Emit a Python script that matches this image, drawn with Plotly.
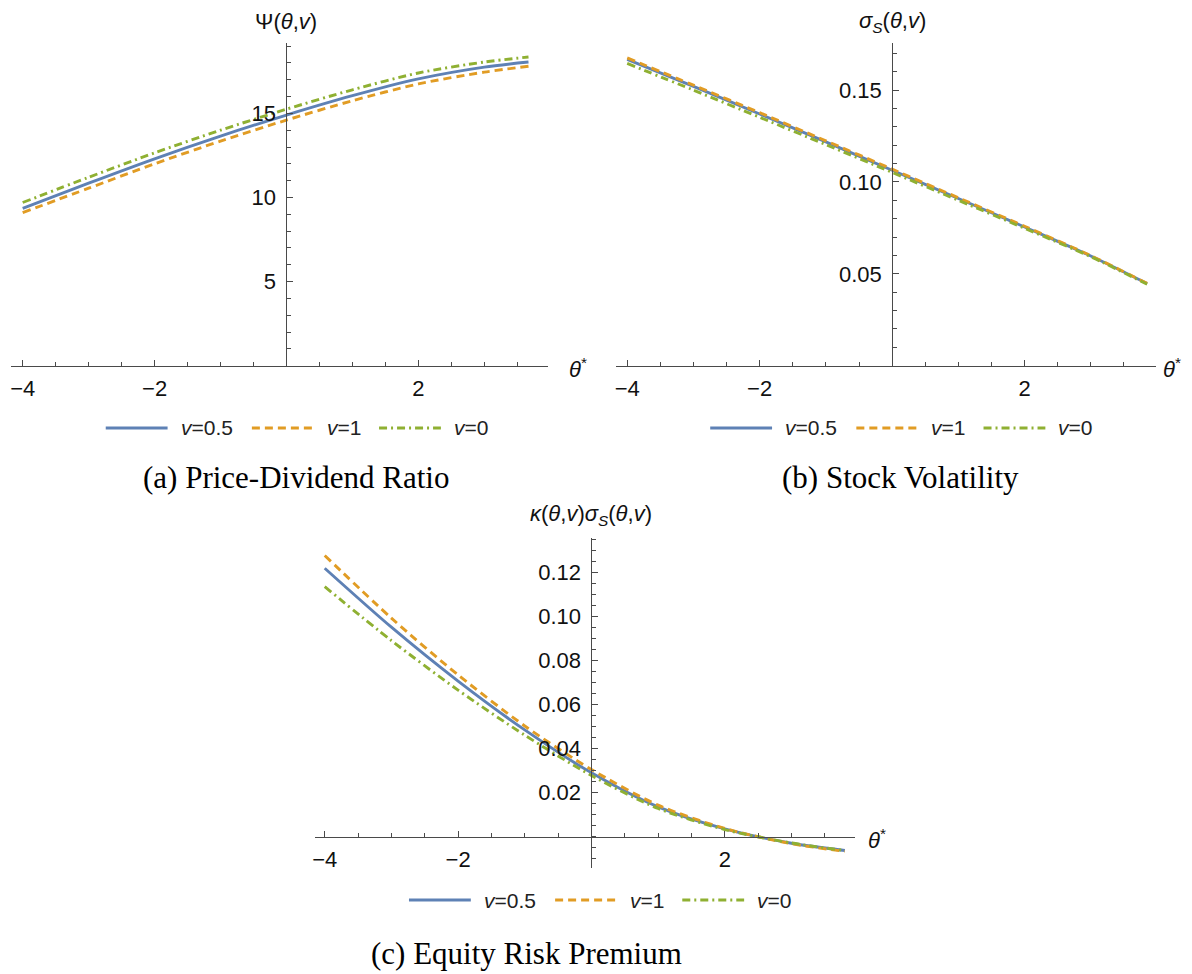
import plotly.graph_objects as go

W, H = 1192, 974

# ---------------- data ----------------
series_labels = ["<i>v</i>=0.5", "<i>v</i>=1", "<i>v</i>=0"]
series_colors = ["#5E81B5", "#E19C24", "#8FB032"]
series_dashes = ["solid", "8px,5px", "8px,4px,2px,4px"]

# (a) Price-Dividend Ratio
theta_a = [-4, -3, -2, -1, 0, 1, 2, 3, 3.67]
psi_v05 = [9.35, 10.85, 12.30, 13.65, 14.90, 16.05, 17.05, 17.75, 18.05]
psi_v1 = [9.10, 10.55, 12.00, 13.35, 14.60, 15.75, 16.75, 17.45, 17.80]
psi_v0 = [9.70, 11.20, 12.65, 14.00, 15.25, 16.40, 17.40, 18.05, 18.35]

# (b) Stock Volatility
theta_b = [-4, -3, -2, -1, 0, 1, 2, 3, 3.85]
sig_v05 = [0.1667, 0.1520, 0.1370, 0.1218, 0.1064, 0.0910, 0.0755, 0.0597, 0.0447]
sig_v1 = [0.1675, 0.1527, 0.1377, 0.1224, 0.1070, 0.0914, 0.0759, 0.0599, 0.0448]
sig_v0 = [0.1645, 0.1500, 0.1352, 0.1203, 0.1052, 0.0900, 0.0748, 0.0593, 0.0443]

# (c) Equity Risk Premium
theta_c = [-4, -3, -2, -1, 0, 1, 2, 3, 3.8]
erp_v05 = [0.1220, 0.0952, 0.0707, 0.0485, 0.0290, 0.0135, 0.0035, -0.0030, -0.0063]
erp_v1 = [0.1278, 0.0993, 0.0735, 0.0503, 0.0305, 0.0143, 0.0037, -0.0032, -0.0067]
erp_v0 = [0.1136, 0.0891, 0.0666, 0.0461, 0.0278, 0.0128, 0.0032, -0.0029, -0.0063]

captions = ["(a) Price-Dividend Ratio", "(b) Stock Volatility", "(c) Equity Risk Premium"]
y_titles = ["Ψ(<i>θ</i>,<i>v</i>)",
            "<i>σ</i><sub><i>S</i></sub>(<i>θ</i>,<i>v</i>)",
            "<i>κ</i>(<i>θ</i>,<i>v</i>)<i>σ</i><sub><i>S</i></sub>(<i>θ</i>,<i>v</i>)"]

# ---------------- helpers ----------------
def px(x):
    return x / W

def py(y):
    return 1 - y / H

AXC = "#4a4a4a"
TXT = "#111111"
TICKFONT = dict(family="Liberation Sans, Arial, sans-serif", size=22, color=TXT)
MINUS = "\u2212"

fig = go.Figure()

panels = [
    dict(x=theta_a, ys=[psi_v05, psi_v1, psi_v0], xa="x", ya="y"),
    dict(x=theta_b, ys=[sig_v05, sig_v1, sig_v0], xa="x2", ya="y2"),
    dict(x=theta_c, ys=[erp_v05, erp_v1, erp_v0], xa="x3", ya="y3"),
]
for p in panels:
    for ys, lab, col, dsh in zip(p["ys"], series_labels, series_colors, series_dashes):
        fig.add_trace(go.Scatter(
            x=p["x"], y=ys, name=lab, mode="lines",
            line=dict(color=col, width=2.9, dash=dsh, shape="spline", smoothing=0.8),
            xaxis=p["xa"], yaxis=p["ya"], showlegend=False, hoverinfo="skip"))

def xaxis_cfg(domain, rng, anchor, position=None):
    d = dict(domain=domain, range=rng, showgrid=False, zeroline=False,
             showline=True, linecolor=AXC, linewidth=1,
             ticks="inside", ticklen=6, tickwidth=1, tickcolor=AXC,
             tickmode="array", tickvals=[-4, -2, 2],
             ticktext=[MINUS + "4", MINUS + "2", "2"],
             tickfont=TICKFONT, ticklabelstandoff=3,
             minor=dict(ticks="inside", tickmode="linear", tick0=0, dtick=0.5,
                        ticklen=3.5, tickwidth=1, tickcolor=AXC),
             fixedrange=True)
    if position is None:
        d["anchor"] = anchor
    else:
        d["anchor"] = "free"
        d["position"] = position
    return d

def yaxis_cfg(domain, rng, position, tickvals, ticktext, minor_dtick):
    return dict(domain=domain, range=rng, anchor="free", position=position,
                showgrid=False, zeroline=False, showline=True, linecolor=AXC,
                linewidth=1, ticks="inside", ticklen=6, tickwidth=1, tickcolor=AXC,
                tickmode="array", tickvals=tickvals, ticktext=ticktext,
                tickfont=TICKFONT, ticklabelstandoff=6,
                minor=dict(ticks="inside", tickmode="linear", tick0=0, dtick=minor_dtick,
                           ticklen=3.5, tickwidth=1, tickcolor=AXC),
                fixedrange=True)

dom_top = [py(365.7), py(42.7)]
fig.update_layout(
    xaxis=xaxis_cfg([px(8.5), px(546)], [-4.17, 3.96], "y"),
    yaxis=yaxis_cfg(dom_top, [0, 19.2], px(284.2), [5, 10, 15], ["5", "10", "15"], 1),
    xaxis2=xaxis_cfg([px(614.5), px(1155.6)], [-4.17, 3.98], "y2"),
    yaxis2=yaxis_cfg(dom_top, [0, 0.1758], px(891.4), [0.05, 0.10, 0.15],
                     ["0.05", "0.10", "0.15"], 0.01),
    xaxis3=xaxis_cfg([px(312.7), px(854)], [-4.147, 3.95], None, position=py(836.7)),
    yaxis3=yaxis_cfg([py(868.3), py(538.3)], [-0.0144, 0.1356], px(589.9),
                     [0.02, 0.04, 0.06, 0.08, 0.10, 0.12],
                     ["0.02", "0.04", "0.06", "0.08", "0.10", "0.12"], 0.005),
)

annotations = []
title_font = dict(family="Liberation Sans, Arial, sans-serif", size=22, color=TXT)
for (xp, yp), t in zip([(284.2, 21.7), (891.4, 21.7), (589.9, 515)], y_titles):
    annotations.append(dict(x=px(xp), y=py(yp), xref="paper", yref="paper", text=t,
                            showarrow=False, xanchor="center", yanchor="middle",
                            font=title_font))
for xp, yp in [(576, 368), (1172, 368), (876, 839)]:
    annotations.append(dict(x=px(xp), y=py(yp), xref="paper", yref="paper",
                            text="<i>θ</i><sup>*</sup>", showarrow=False,
                            xanchor="center", yanchor="middle", font=title_font))

cap_font = dict(family="Liberation Serif, Times New Roman, serif", size=31, color="#000")
for (xp, yp), t in zip([(294, 477), (900, 477), (525, 953)], captions):
    annotations.append(dict(x=px(xp), y=py(yp), xref="paper", yref="paper", text=t,
                            showarrow=False, xanchor="center", yanchor="middle",
                            font=cap_font))

# legends (one per panel)
leg_font = dict(family="Liberation Sans, Arial, sans-serif", size=21, color="#222")
shapes = []
item_offsets = [0, 146.5, 274]
for x0, yl in [(103, 428), (709, 428), (407, 900)]:
    for off, lab, col, dsh in zip(item_offsets, series_labels, series_colors, series_dashes):
        xs = x0 + off
        shapes.append(dict(type="line", xref="paper", yref="paper",
                           x0=px(xs), x1=px(xs + 62), y0=py(yl), y1=py(yl),
                           line=dict(color=col, width=2.9, dash=dsh)))
        annotations.append(dict(x=px(xs + 73), y=py(yl), xref="paper", yref="paper",
                                text=lab, showarrow=False, xanchor="left",
                                yanchor="middle", font=leg_font))

fig.update_layout(
    width=W, height=H, margin=dict(l=0, r=0, t=0, b=0),
    paper_bgcolor="white", plot_bgcolor="white",
    showlegend=False, annotations=annotations, shapes=shapes,
)

fig.write_html("out.html")
